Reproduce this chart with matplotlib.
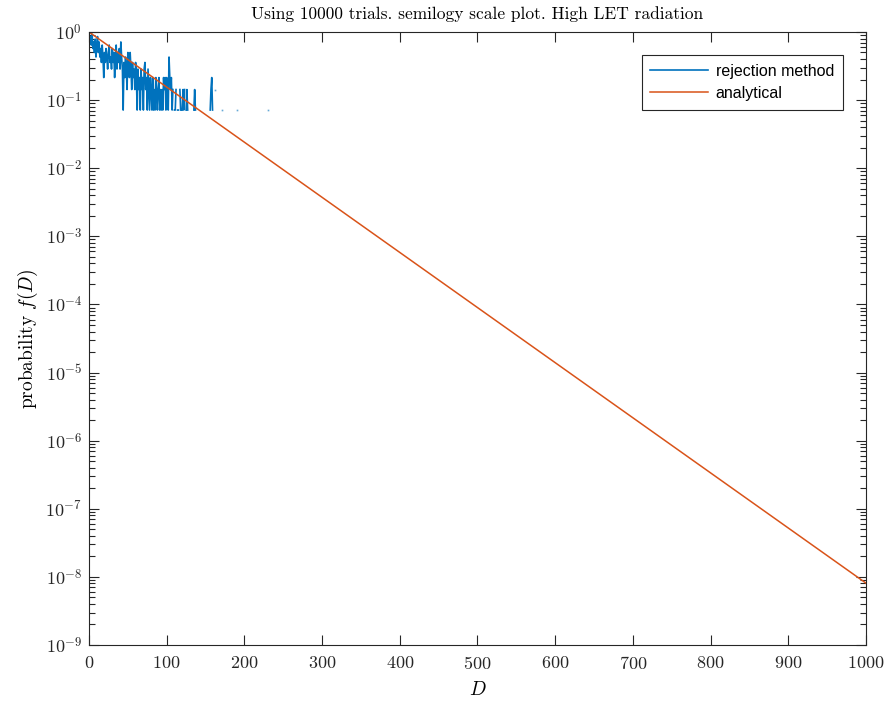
import numpy as np
import matplotlib
matplotlib.use("Agg")
import matplotlib.pyplot as plt
from matplotlib.ticker import FuncFormatter, NullFormatter, FixedLocator

plt.rcParams['mathtext.fontset'] = 'cm'
plt.rcParams['axes.formatter.use_mathtext'] = True

# Histogram counts from the rejection method (bin width 1 in D, starting at D=0)
counts = [14, 11, 12, 9, 13, 8, 10, 7, 11, 6, 9, 12, 7, 10, 6,
          8, 5, 9, 6, 3, 7, 5, 8, 6, 4, 7, 9, 5, 6, 4, 8, 5, 7, 3, 6, 9, 4, 7, 5, 8, 4,
          10, 6, 4, 1, 5, 3, 6, 4, 2, 7, 5, 3, 7, 4, 2, 5, 3, 4, 2, 5,
          3, 1, 4, 2, 3, 1, 4, 2, 3, 1, 4, 5, 2, 3, 1, 4, 2, 1, 3, 2,
          1, 3, 1, 2, 1, 3, 2, 1, 2, 3, 1, 2, 1, 2, 1, 3, 2, 3, 1, 3,
          2, 1, 6, 3, 2, 3, 1, 2, 0, 1, 1, 2, 0, 1, 1, 0, 2, 1, 0, 1,
          2, 1, 2, 0, 1, 2, 1, 0, 0, 1, 0, 1, 0, 0, 1, 2, 1, 0, 0, 0,
          0, 0, 1, 0, 0, 0, 0, 0, 0, 0, 0, 0, 0, 0, 0, 1, 2, 3, 1, 0]
# isolated single bins further out (D, count)
iso_D = [162, 171, 190, 230]
iso_counts = [2, 1, 1, 1]

# analytical curve end points (straight line on semilog axes)
D_analytic = [0, 1000]
f_analytic = [1.0, 8.1e-9]

x_ticks = list(range(0, 1001, 100))
y_exponents = list(range(-9, 1))

norm = max(counts)
D_bins = np.arange(len(counts))
f_rej = np.array(counts, dtype=float) / norm
f_rej[f_rej <= 0] = np.nan
f_iso = np.array(iso_counts, dtype=float) / norm

fig = plt.figure(figsize=(8.89, 7.06), dpi=100)
ax = fig.add_axes([0.1001, 0.0864, 0.8740, 0.8683])

blue = '#0072BD'
orange = '#D95319'
ax.plot(D_bins, f_rej, color=blue, lw=1.2, label='rejection method')
ax.plot(iso_D, f_iso, ls='none', marker='s', ms=1.2, mew=0, color=blue, alpha=0.6)
ax.plot(D_analytic, f_analytic, color=orange, lw=1.1, label='analytical')

ax.set_yscale('log')
ax.set_xlim(0, 1000)
ax.set_ylim(1e-9, 1)
ax.xaxis.set_major_locator(FixedLocator(x_ticks))
major_y = [10.0 ** e for e in y_exponents]
minor_y = [m * 10.0 ** e for e in y_exponents[:-1] for m in range(2, 10)]
ax.yaxis.set_major_locator(FixedLocator(major_y))
ax.yaxis.set_major_formatter(FuncFormatter(lambda v, p: r'$10^{%d}$' % int(round(np.log10(v)))))
ax.yaxis.set_minor_locator(FixedLocator(minor_y))
ax.yaxis.set_minor_formatter(NullFormatter())

ax.tick_params(which='both', direction='in', top=True, right=True, color='#262626',
               labelcolor='#262626', width=0.8)
ax.tick_params(which='major', length=7, labelsize=13)
ax.tick_params(axis='x', which='major', pad=7)
ax.tick_params(axis='y', which='major', pad=5)
ax.tick_params(which='minor', length=4)
for lab in ax.get_xticklabels():
    lab.set_fontfamily('cmr10')
for sp in ax.spines.values():
    sp.set_color('#262626')
    sp.set_linewidth(0.8)

ax.set_title('Using 10000 trials. semilogy scale plot. High LET radiation',
             fontfamily='cmr10', fontsize=12.5, pad=9, color='#000000')
ax.set_xlabel('$D$', fontsize=14, labelpad=6)
ax.set_ylabel('probability $f(D)$', fontfamily='cmr10', fontsize=14, labelpad=4)

leg = ax.legend(loc='upper right', bbox_to_anchor=(0.9704, 0.9625), borderaxespad=0,
                prop={'family': 'Liberation Sans', 'size': 11.5},
                fancybox=False, framealpha=1, edgecolor='#262626',
                handlelength=3.6, handletextpad=0.5, borderpad=0.55, labelspacing=0.45)
leg.get_frame().set_linewidth(0.8)

fig.savefig('out.png', dpi=100)
